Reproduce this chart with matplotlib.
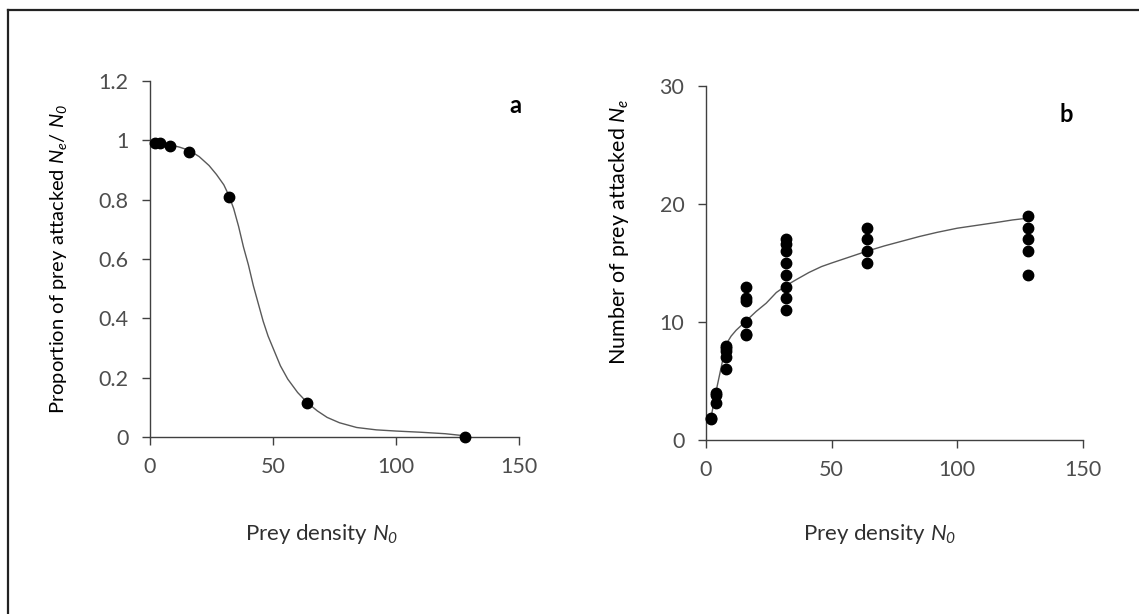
import matplotlib
matplotlib.use('Agg')
import matplotlib.pyplot as plt
from matplotlib.lines import Line2D

plt.rcParams['font.family'] = ['Lato', 'DejaVu Sans']
plt.rcParams['mathtext.fontset'] = 'custom'
plt.rcParams['mathtext.rm'] = 'Lato:italic'
plt.rcParams['mathtext.it'] = 'Lato:italic'

# panel a: proportion of prey attacked
a_x = [2, 4, 8, 16, 32, 64, 128]
a_y = [0.99, 0.99, 0.98, 0.96, 0.81, 0.115, 0.0]
# fitted curve
a_fit_x = [0, 4, 8, 12, 16, 20, 24, 27, 30, 32, 34, 36, 38, 40, 42, 44, 46, 48, 50,
           53, 56, 60, 64, 68, 72, 77, 84, 92, 100, 110, 120, 128]
a_fit_y = [0.99, 0.99, 0.985, 0.977, 0.966, 0.945, 0.915, 0.885, 0.85, 0.815, 0.77,
           0.71, 0.64, 0.58, 0.51, 0.45, 0.39, 0.34, 0.30, 0.24, 0.195, 0.15, 0.115,
           0.088, 0.066, 0.048, 0.032, 0.024, 0.02, 0.016, 0.011, 0.004]

# panel b: number of prey attacked
b_x = [2, 2, 4, 4, 4, 8, 8, 8, 8, 8,
       16, 16, 16, 16, 16, 16,
       32, 32, 32, 32, 32, 32, 32, 32,
       64, 64, 64, 64,
       128, 128, 128, 128, 128]
b_y = [1.9, 1.8, 4, 3.8, 3.1, 8, 7.8, 7.5, 7, 6,
       13, 12, 11.8, 10, 9, 8.9,
       17, 16.6, 16, 15, 14, 13, 12, 11,
       18, 17, 16, 15,
       19, 18, 17, 16, 14]
b_fit_x = [2, 4, 8, 10, 12, 16, 20, 24, 28, 32, 36, 41, 46, 50, 57, 64, 71, 78, 85,
           92, 100, 108, 116, 122, 128]
b_fit_y = [1.9, 4.1, 8.1, 8.8, 9.3, 10.1, 10.9, 11.6, 12.5, 13.1, 13.6, 14.2, 14.7,
           15.0, 15.5, 16.0, 16.45, 16.85, 17.25, 17.6, 17.95, 18.2, 18.45, 18.65, 18.8]

fig = plt.figure(figsize=(11.39, 6.14), dpi=100)
axa = fig.add_axes([0.1317, 0.2883, 0.324, 0.5798])
axb = fig.add_axes([0.6198, 0.2834, 0.331, 0.5765])

line_c = '#404040'
tick_c = '#4d4d4d'
label_c = '#303030'

for ax in [axa, axb]:
    for s in ['top', 'right']:
        ax.spines[s].set_visible(False)
    for s in ['left', 'bottom']:
        ax.spines[s].set_color(line_c)
        ax.spines[s].set_linewidth(1.0)
    ax.tick_params(direction='out', length=5.5, width=1.0, color=line_c,
                   labelcolor=tick_c, labelsize=15.5)
    ax.tick_params(axis='y', pad=10)
    ax.tick_params(axis='x', pad=9)
    ax.set_xlim(0, 150)
    ax.set_xticks([0, 50, 100, 150])

axa.plot(a_fit_x, a_fit_y, color='#595959', linewidth=1.0, zorder=2)
axa.plot(a_x, a_y, 'o', color='black', markersize=7.5, zorder=3, clip_on=False)
axa.set_ylim(0, 1.2)
axa.set_yticks([0, 0.2, 0.4, 0.6, 0.8, 1.0, 1.2])
axa.set_yticklabels(['0', '0.2', '0.4', '0.6', '0.8', '1', '1.2'])
axa.set_ylabel(r'Proportion of prey attacked $N_e$/ $N_0$', fontsize=14.5, color='black')
axa.set_xlabel(r'Prey density $N_0$', fontsize=16, color=label_c)
axa.yaxis.set_label_coords(-0.22, 0.5)
axa.xaxis.set_label_coords(0.466, -0.240)
axa.text(0.99, 0.93, 'a', transform=axa.transAxes, fontsize=17, fontweight='bold',
         ha='center', va='center')

axb.plot(b_fit_x, b_fit_y, color='#595959', linewidth=1.0, zorder=2)
axb.plot(b_x, b_y, 'o', color='black', markersize=7.5, zorder=3, clip_on=False)
axb.set_ylim(0, 30)
axb.set_yticks([0, 10, 20, 30])
axb.set_ylabel(r'Number of prey attacked $N_e$', fontsize=15.5, color='black')
axb.set_xlabel(r'Prey density $N_0$', fontsize=16, color=label_c)
axb.yaxis.set_label_coords(-0.199, 0.588)
axb.xaxis.set_label_coords(0.462, -0.233)
axb.text(0.955, 0.92, 'b', transform=axb.transAxes, fontsize=17, fontweight='bold',
         ha='center', va='center')

# outer frame (top and left edges only)
fig.add_artist(Line2D([0.0066, 1.0], [0.9837, 0.9837], transform=fig.transFigure,
                      color='#222222', linewidth=1.6))
fig.add_artist(Line2D([0.0066, 0.0066], [0.0, 0.9837], transform=fig.transFigure,
                      color='#222222', linewidth=1.6))

fig.savefig('out.png', dpi=100)
